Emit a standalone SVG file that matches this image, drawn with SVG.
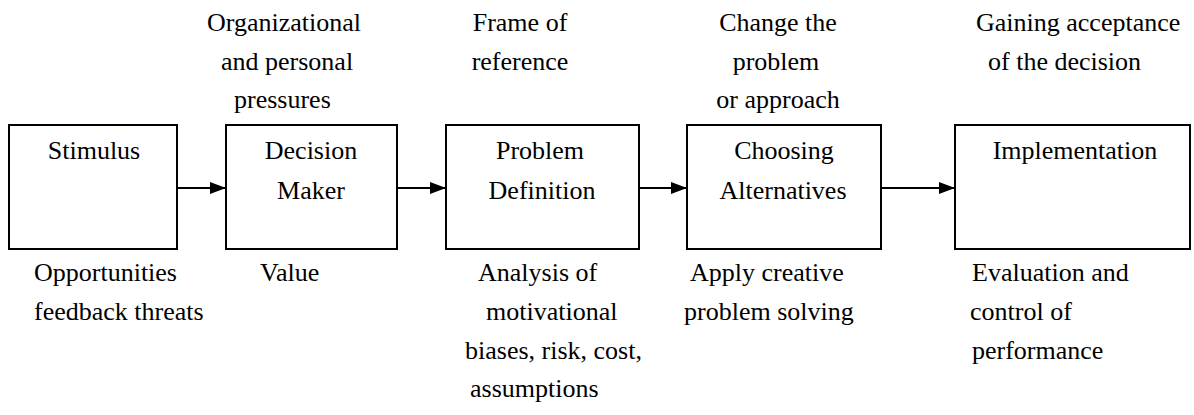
<svg xmlns="http://www.w3.org/2000/svg" width="1194" height="415" viewBox="0 0 1194 415">
  <style>
    .box { fill: #ffffff; stroke: #000000; stroke-width: 2; }
    .link { fill: none; stroke: #000000; stroke-width: 2.2; }
    text { font-size: 26px; fill: #000000; }
    .c { text-anchor: middle; }
  </style>
  <defs>
    <marker id="arrow" markerWidth="16" markerHeight="12" refX="16" refY="6" orient="auto" markerUnits="userSpaceOnUse">
      <path d="M0,0 L16,6 L0,12 Z" fill="#000000"/>
    </marker>
  </defs>
  <rect width="1194" height="415" fill="#ffffff"/>

  <g font-family="'Liberation Serif', 'Times New Roman', Times, 'Noto Serif', 'DejaVu Serif', FreeSerif, Tinos, serif">
  <!-- labels above the boxes -->
  <g id="labels-top">
    <text x="207" y="31">Organizational</text>
    <text x="221" y="70">and personal</text>
    <text x="234" y="108">pressures</text>
    <text x="520" y="31" class="c">Frame of</text>
    <text x="520" y="70" class="c">reference</text>
    <text x="778" y="31" class="c">Change the</text>
    <text x="776" y="70" class="c">problem</text>
    <text x="778" y="108" class="c">or approach</text>
    <text x="976" y="31">Gaining acceptance</text>
    <text x="988" y="70">of the decision</text>
  </g>

  <!-- process steps -->
  <g id="stimulus">
    <rect class="box" x="9" y="125" width="168" height="124"/>
    <text x="94" y="159" class="c">Stimulus</text>
  </g>
  <g id="decision-maker">
    <rect class="box" x="226" y="125" width="171" height="124"/>
    <text x="311" y="159" class="c">Decision</text>
    <text x="311" y="199" class="c">Maker</text>
  </g>
  <g id="problem-definition">
    <rect class="box" x="446" y="125" width="193" height="124"/>
    <text x="540" y="159" class="c">Problem</text>
    <text x="542" y="199" class="c">Definition</text>
  </g>
  <g id="choosing-alternatives">
    <rect class="box" x="687" y="125" width="194" height="124"/>
    <text x="784" y="159" class="c">Choosing</text>
    <text x="783" y="199" class="c">Alternatives</text>
  </g>
  <g id="implementation">
    <rect class="box" x="955" y="125" width="235" height="124"/>
    <text x="1075" y="159" class="c">Implementation</text>
  </g>

  <!-- arrows between steps -->
  <g id="connectors">
    <line class="link" x1="177" y1="188" x2="226" y2="188" marker-end="url(#arrow)"/>
    <line class="link" x1="397" y1="188" x2="446" y2="188" marker-end="url(#arrow)"/>
    <line class="link" x1="639" y1="188" x2="687" y2="188" marker-end="url(#arrow)"/>
    <line class="link" x1="881" y1="188" x2="955" y2="188" marker-end="url(#arrow)"/>
  </g>

  <!-- labels below the boxes -->
  <g id="labels-bottom">
    <text x="34" y="281">Opportunities</text>
    <text x="34" y="320">feedback threats</text>
    <text x="260" y="281">Value</text>
    <text x="478" y="281">Analysis of</text>
    <text x="486" y="320">motivational</text>
    <text x="465" y="359">biases, risk, cost,</text>
    <text x="470" y="397">assumptions</text>
    <text x="690" y="281">Apply creative</text>
    <text x="684" y="320">problem solving</text>
    <text x="972" y="281">Evaluation and</text>
    <text x="970" y="320">control of</text>
    <text x="972" y="359">performance</text>
  </g>
  </g>
</svg>
